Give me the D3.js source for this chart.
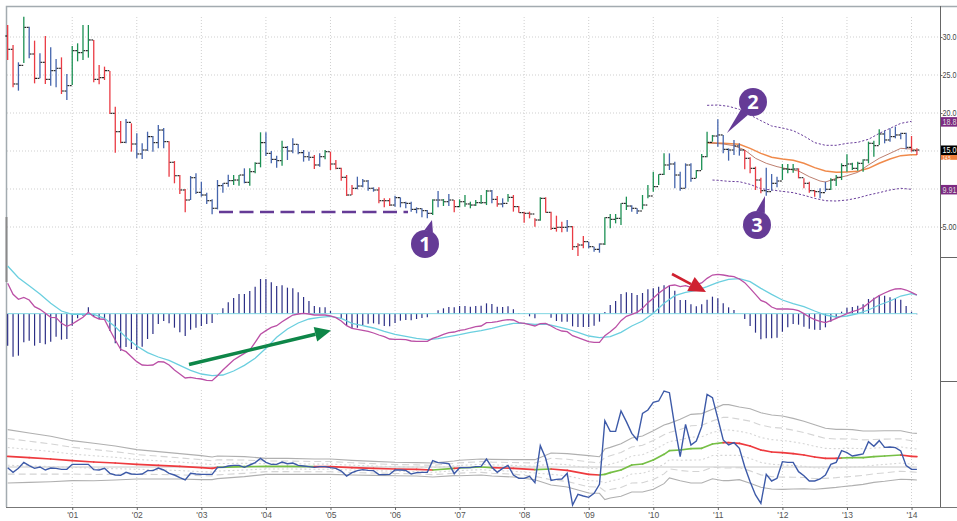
<!DOCTYPE html>
<html><head><meta charset="utf-8">
<style>html,body{margin:0;padding:0;background:#fff;overflow:hidden}svg{display:block}text{font-family:"Liberation Sans",Arial,sans-serif}</style>
<script src="https://cdn.jsdelivr.net/npm/d3@7/dist/d3.min.js"></script>
</head><body><div id="c"></div>
<script>
const high=[31.58,28.95,26.67,32.68,31.36,29.52,27.85,30.13,28.64,27.11,27.32,25.13,28.82,29.17,31.58,31.58,29.61,26.32,26.1,25.53,20.83,18.95,19.21,18.64,17.32,16.01,17.54,16.97,18.42,18.03,16.27,13.68,11.84,10,11.71,12.06,10.96,9.52,8.64,11.18,10.75,11.89,11.84,11.84,12.72,12.72,13.51,17.46,17.46,15,14.39,16.36,15.66,16.67,15.92,15.13,14.91,14.47,14.69,15.13,14.91,13.82,12.81,11.84,10.53,11.62,11.32,11.18,10.22,10.22,8.77,8.77,9.12,8.9,8.33,8.33,7.59,7.46,7.24,8.64,9.74,8.68,9.34,8.55,8.64,9.21,8.33,8.55,9.21,9.87,9.87,9.08,8.77,9.34,9.21,7.76,7.02,7.02,6.14,8.9,8.9,7.02,6.49,5.7,5.92,5.13,2.85,3.82,3.07,2.41,2.85,6.27,6.71,6.71,8.11,8.99,7.85,7.46,9.21,10.53,12.28,11.93,14.69,14.69,13.6,12.28,13.38,13.38,12.5,14.61,17.54,17.11,19.17,17.11,15.35,16.45,16.01,15.13,14.17,12.94,11.49,12.81,11.97,11.62,13.29,13.29,13.29,12.72,11.4,10.96,9.87,10.09,10.96,11.4,11.84,13.38,14.56,13.46,13.6,13.9,16.23,16.36,17.85,17.68,17.98,18.2,17.41,17.41,16.97,15.35];
const low=[26.97,23.38,22.94,26.58,27.19,23.9,24.56,23.82,23.6,23.38,22.5,21.71,23.68,26.8,26.97,27.28,24.04,23.77,24.34,19.87,14.78,16.01,16.01,14.91,14.04,13.95,15,14.91,15.35,15.35,11.62,10.75,9.34,6.93,8.55,9.34,8.99,8.03,6.67,7.32,9.52,10.31,10.53,10.44,10.75,10.44,12.06,12.85,14.34,13.38,12.81,13.07,13.82,14.69,14.56,13.6,13.73,12.63,12.94,13.9,12.5,12.59,11.1,9.08,9.21,9.96,10.22,9.78,9.65,8.11,7.59,7.76,7.68,7.59,7.46,7.02,6.8,6.27,6.14,6.58,7.59,7.76,7.76,6.93,7.59,7.68,7.46,7.76,8.03,7.89,8.11,7.68,7.59,8.33,7.02,6.89,5.57,6.14,5.04,5.83,6.89,4.61,4.39,4.3,4.39,1.97,1.18,2.19,2.19,1.75,1.62,2.63,4.82,5.48,5.26,7.24,7.02,6.71,7.32,8.77,9.65,10.53,11.84,12.5,10.09,9.78,10.09,10.96,11.4,12.5,14.17,16.23,15.57,14.69,13.73,14.47,14.39,12.59,12.06,9.87,9.43,9.12,9.78,10.22,11.18,12.06,12.15,11.4,10.09,9.52,8.99,8.77,9.65,9.87,10.39,11.18,12.28,12.5,12.41,12.28,13.38,14.25,15.79,16.01,16.23,16.67,16.54,15.22,14.91,14.47];
const close=[28.38,23.82,26.27,31.27,27.76,24.56,26.67,24.43,25.57,25.88,22.89,23.6,28.2,27.94,28.2,29.61,24.43,24.65,25.57,19.96,17.54,16.14,18.77,15.92,14.61,15.13,16.89,16.1,17.76,16.23,13.51,11.75,9.87,8.55,11.49,9.56,9.21,8.46,7.46,10.44,10.75,11.1,11.18,11.84,10.88,12.28,13.38,16.1,14.69,13.9,13.73,15.48,15,15.88,14.78,14.25,14.17,13.16,14.25,14.91,13.29,12.72,11.54,9.21,10.09,10.39,11.05,10.09,9.87,8.46,8.46,7.89,8.86,8.2,8.11,7.32,7.41,7.15,6.8,8.55,8.55,8.33,8.55,7.68,8.33,8.03,7.89,8.2,8.2,9.74,8.64,8.03,8.11,8.9,7.68,6.89,6.8,6.71,5.92,8.77,6.93,4.82,4.96,4.96,5.04,2.41,2.63,3.07,2.41,2.06,2.76,6.23,6.01,6.14,8.11,7.76,7.46,7.11,7.89,9.08,10.31,11.93,13.16,13.29,11.84,10.09,13.16,11.4,12.41,14.25,16.14,16.97,17.11,15.22,15.13,15.66,15.13,14.04,12.72,11.18,9.78,9.65,10.75,11.05,12.63,12.59,12.63,11.49,10.75,9.78,9.65,9.52,9.96,11.18,11.54,13.07,13.29,12.72,13.38,13.82,16.01,15.7,17.24,16.45,16.89,17.11,17.32,15.48,15.04,15.13];
const firstOpen=30.13;
const impulseColors=["rrbgbrbrbb","rbggggrrrr","rrbrbbbbbb","rrrrbbbbbb","bbggbgggbb","bgbbbbbrbg","rrrrrbbbbr","rrbbbbbbbg","bgbrgggggg","brbgrrrrrg","rrrrbrrrbb","bgggggbbgg","gggbbbbbgg","ggbbbbbrrr","rbbbgggrrr","rbbggggggg","gggbbbbbrr"].join("");
const macdHist=[-.96,-1.29,-1.26,-.86,-.81,-.96,-.88,-.92,-.84,-.69,-.78,-.76,-.36,-.14,-.06,.19,-.1,-.16,-.14,-.52,-.89,-1.11,-1,-1.06,-1.09,-.99,-.76,-.61,-.31,-.22,-.29,-.42,-.56,-.67,-.48,-.42,-.37,-.31,-.28,-.02,.16,.34,.47,.59,.59,.68,.81,1.04,1.04,.94,.83,.85,.78,.76,.64,.5,.38,.23,.19,.19,.08,0,-.16,-.36,-.44,-.42,-.34,-.3,-.29,-.32,-.37,-.38,-.28,-.21,-.19,-.2,-.16,-.13,-.11,0,.1,.16,.2,.19,.23,.23,.21,.23,.24,.31,.29,.21,.2,.22,.13,.02,.01,-.08,-.14,0,0,-.12,-.22,-.24,-.24,-.38,-.4,-.4,-.4,-.36,-.24,.05,.26,.38,.59,.64,.62,.56,.62,.73,.76,.81,.85,.83,.69,.41,.41,.28,.22,.28,.42,.51,.46,.31,.19,.11,0,-.16,-.37,-.57,-.77,-.74,-.74,-.72,-.54,-.41,-.31,-.33,-.39,-.45,-.48,-.49,-.41,-.24,-.14,.06,.18,.2,.24,.28,.44,.48,.56,.54,.49,.46,.42,.23,.06,-.02];
const macdLine=[.91,.58,.43,.49,.41,.21,.13,.01,-.11,-.12,-.29,-.38,-.31,-.21,-.11,.04,-.09,-.16,-.17,-.49,-.79,-1.07,-1.14,-1.29,-1.44,-1.54,-1.55,-1.54,-1.44,-1.45,-1.54,-1.69,-1.81,-1.93,-1.91,-1.94,-1.96,-2,-2.01,-1.86,-1.69,-1.54,-1.39,-1.29,-1.19,-1.09,-.86,-.62,-.51,-.41,-.36,-.24,-.14,-.04,-.01,.01,-.01,-.04,-.04,-.04,-.07,-.12,-.22,-.36,-.44,-.47,-.5,-.53,-.58,-.64,-.69,-.76,-.77,-.77,-.78,-.82,-.83,-.83,-.83,-.74,-.69,-.62,-.57,-.55,-.5,-.48,-.43,-.39,-.37,-.27,-.26,-.24,-.2,-.18,-.19,-.27,-.29,-.33,-.37,-.3,-.29,-.37,-.46,-.52,-.54,-.66,-.72,-.78,-.84,-.86,-.86,-.66,-.54,-.41,-.21,-.08,-.02,.04,.16,.33,.46,.61,.73,.84,.86,.81,.84,.79,.88,.92,1.06,1.16,1.18,1.16,1.13,1.11,1.04,.93,.76,.58,.4,.33,.2,.14,.14,.14,.13,.09,0,-.1,-.18,-.23,-.27,-.21,-.14,-.07,0,.06,.11,.19,.31,.44,.54,.62,.69,.74,.75,.71,.64,.56];
const signalBars=d3.range(0,170,2).concat([169]);
const signalLine=[1.43,1.08,.84,.59,.31,.08,-.02,-.02,-.02,-.14,-.39,-.71,-.97,-1.17,-1.3,-1.4,-1.55,-1.7,-1.81,-1.86,-1.84,-1.72,-1.55,-1.34,-1.04,-.71,-.46,-.28,-.16,-.11,-.08,-.14,-.29,-.36,-.43,-.53,-.62,-.68,-.74,-.78,-.75,-.69,-.63,-.56,-.51,-.44,-.36,-.29,-.29,-.32,-.31,-.38,-.46,-.56,-.67,-.72,-.69,-.56,-.37,-.22,.01,.31,.54,.64,.7,.81,.94,1.03,1.05,.96,.76,.58,.41,.3,.21,.08,-.04,-.1,-.07,0,.11,.26,.38,.53,.6,.56];
const oscLine=[-.02,-.16,-.04,.14,.04,-.04,0,-.09,-.03,-.04,-.07,-.07,.08,.08,.08,.08,-.08,-.09,-.04,-.19,-.24,-.25,-.16,-.21,-.22,-.21,-.11,-.11,-.03,-.09,-.19,-.24,-.32,-.39,-.19,-.21,-.22,-.22,-.22,-.01,-.01,.03,.05,.05,-.01,.06,.13,.26,.14,.08,.08,.15,.1,.12,.05,.03,.01,-.01,.01,.01,-.02,-.04,-.12,-.27,-.17,-.11,-.08,-.1,-.11,-.23,-.23,-.22,-.09,-.09,-.1,-.21,-.17,-.16,-.16,.19,.13,.12,.1,-.2,-.02,-.02,-.02,.01,.02,.24,-.01,-.16,-.04,.05,-.24,-.34,-.34,-.28,-.47,.64,.26,-.4,-.37,-.36,-.19,-1.14,-.82,-.87,-.91,-.79,-.52,1.39,1.07,1.07,1.68,1.36,1.01,.81,1.61,1.71,1.94,1.98,2.28,2.23,1.21,.31,1.28,.66,.78,1.21,2.18,2.08,1.46,.81,.66,.73,.56,.01,-.44,-.84,-1.09,-.22,-.42,-.34,.16,.14,.14,-.14,-.26,-.42,-.42,-.36,-.24,.08,.14,.49,.43,.33,.36,.39,.76,.62,.79,.59,.6,.58,.48,.04,-.07,-.07];
const emaBars=[0,4,8,12,16,20,24,28,32,36,38,39,44,48,52,57,60,64,68,72,76,79,83,84,88,90,94,98,101,104,108,110,111,112,114,116,118,120,122,123,125,127,129,131,133,134,136,138,140,142,144,146,148,150,152,154,155,157,159,161,163,166,168,169];
const emaVals=[.32,.28,.24,.19,.15,.12,.08,.05,.02,-.02,-.04,-.01,.01,.02,.02,.01,.01,-.02,-.04,-.06,-.07,-.09,-.04,-.03,0,-.02,-.04,-.08,-.06,-.1,-.22,-.24,-.22,-.17,-.09,.06,.09,.21,.38,.49,.51,.55,.56,.69,.73,.73,.71,.63,.51,.45,.43,.4,.36,.3,.26,.26,.27,.28,.28,.31,.33,.36,.32,.31];
const emaTrend=["rrrrrrrrrrr","gggg","rrrrrr","grggrrgrrr","ggggggggggggg","rrrrrrrrrrrr","ggggg","rrr"].join("");
const atrVals=[.267,.247,.227,.2,.187,.17,.147,.137,.127,.12,.113,.113,.1,.08,.08,.077,.077,.073,.07,.067,.067,.07,.073,.077,.08,.083,.087,.1,.16,.167,.187,.183,.253,.253,.263,.27,.28,.293,.293,.273,.307,.343,.347,.347,.38,.38,.363,.373,.373,.37,.367,.353,.337,.323,.3,.29,.287,.28,.267,.257,.253,.243,.233,.233];
const slowEmaBars=[130,133,136,138,140,142,144,146,148,150,152,154,156,158,160,162,164,166,168,169];
const slowEma=[16.1,16.01,15.88,15.35,14.69,14.17,13.95,13.77,13.38,12.81,12.37,12.19,12.24,12.32,12.72,13.38,13.95,14.39,14.52,14.52];
const fastEmaBars=[130,133,135,137,139,141,143,145,147,149,151,152,154,156,158,160,162,164,166,168,169];
const fastEma=[16.1,15.92,15.7,15.13,14.04,13.38,12.94,12.63,12.37,11.62,11.05,10.92,11.4,11.75,12.19,13.16,14.04,14.69,15.35,15.26,15.13];
const upperBars=[130,132,134,136,138,140,142,144,146,148,150,152,154,156,158,160,162,164,166,168];
const upperEnv=[21.01,21.05,20.88,20.48,19.74,18.99,18.29,18.03,17.68,16.97,16.1,15.75,15.75,16.01,16.14,16.54,17.32,17.98,18.64,18.9];
const lowerBars=[131,132,134,136,138,140,142,144,146,148,150,152,154,156,158,160,162,164,166,168];
const lowerEnv=[11.18,11.14,11.01,10.96,10.61,10.04,9.87,9.69,9.52,9.17,8.77,8.46,8.42,8.55,8.82,9.21,9.52,9.87,10.09,9.96];
const priceTicks=[30,25,20,15,10,5];
const priceTickLabels=["30.0","25.0","20.0","","","5.00"];
const yearBars=[12,24,36,48,60,72,84,96,108,120,132,144,156,168];
const yearLabels=["'01","'02","'03","'04","'05","'06","'07","'08","'09","'10","'11","'12","'13","'14"];
const tags=[{v:18.83,t:"18.8",f:"#7d2a82",c:"#ddd"},{v:14.2,t:"14.5",f:"#f07f3c",c:"#fff",h:5.5,fs:5.2,b:2.8},{v:15.1,t:"15.0",f:"#000",c:"#fff",b:2.6},{v:9.91,t:"9.91",f:"#7d2a82",c:"#ddd"}];

const W=957,H=521,plotR=940;
const svg=d3.select("#c").append("svg").attr("width",W).attr("height",H);
const x=d3.scaleLinear().domain([0,169]).range([7.67,916.9]);
const yP=d3.scaleLinear().domain([0,30]).range([265,37]);
const yM=d3.scaleLinear().domain([0,3]).range([313.67,213.67]);
const yO=d3.scaleLinear().domain([0,3]).range([467,367]);
const gridC="#cfcfcf";
const col={r:"#ea3b44",g:"#1b9053",b:"#4565ad"};

// grid
const grid=svg.append("g").attr("stroke",gridC).attr("stroke-dasharray","1,2");
grid.selectAll("line.h").data(priceTicks).join("line").attr("x1",7).attr("x2",plotR).attr("y1",d=>yP(d)).attr("y2",d=>yP(d));
[[17,256],[265,381],[390,506]].forEach(([a,b])=>{
  grid.append("g").selectAll("line").data(yearBars).join("line").attr("x1",d=>x(d)).attr("x2",d=>x(d)).attr("y1",a).attr("y2",b);
});

// frame
const frame=svg.append("g").attr("fill","none");
frame.append("path").attr("d",`M6.5,${H-14}V6.5H${W}`).attr("stroke","#a3abb0").attr("stroke-width",1.5);
frame.append("path").attr("d","M6.5,217V282").attr("stroke","#8a8a8a").attr("stroke-width",2);
frame.append("path").attr("d",`M${plotR+.5},6V507`).attr("stroke","#666");
frame.append("path").attr("d",`M${plotR},257.5H${W}M${plotR},381.5H${W}`).attr("stroke","#666");
frame.append("path").attr("d",`M6,507.5H${W}`).attr("stroke","#777");

// axes
const yAxis=d3.axisRight(yP).tickValues(priceTicks).tickSize(2.5).tickPadding(0).tickFormat((d,i)=>priceTickLabels[i]);
const ga=svg.append("g").attr("transform",`translate(${plotR},0)`).call(yAxis);
ga.select(".domain").remove();
ga.selectAll("line").attr("stroke","#666");
ga.selectAll("text").attr("x",0).attr("transform","translate(2.6,0) scale(.8,1)").attr("font-size",9).attr("dy","0.28em").attr("fill","#444").attr("font-family","Liberation Sans");
const xAxis=d3.axisBottom(x).tickValues(yearBars).tickSize(3).tickPadding(2).tickFormat((d,i)=>yearLabels[i]);
const gx=svg.append("g").attr("transform","translate(0,507)").call(xAxis);
gx.select(".domain").remove();
gx.selectAll("line").attr("stroke","#666");
gx.selectAll("text").attr("font-size",8.5).attr("fill","#555").attr("font-family","Liberation Sans");

// right-hand value tags
const tg=svg.append("g").selectAll("g").data(tags).join("g");
tg.append("rect").attr("x",plotR+1).attr("width",W-plotR).attr("y",d=>yP(d.v)-(d.h||9.5)/2).attr("height",d=>d.h||9.5).attr("fill",d=>d.f);
tg.append("text").attr("transform",d=>`translate(${plotR+2.6},${yP(d.v)+(d.b||3.1)}) scale(.8,1)`).attr("font-size",d=>d.fs||9).attr("fill",d=>d.c).text(d=>d.t);

// overlays on price
const ln=(bs,yy)=>d3.line().x((d,i)=>x(bs[i])).y(d=>yy(d));
const ov=svg.append("g").attr("fill","none");
ov.append("path").attr("d",ln(slowEmaBars,yP)(slowEma)).attr("stroke","#f08a4b").attr("stroke-width",1.5);
ov.append("path").attr("d",ln(fastEmaBars,yP)(fastEma)).attr("stroke","#b5705f").attr("stroke-width",.9);
ov.append("path").attr("d",ln(upperBars,yP)(upperEnv)).attr("stroke","#6a3f9c").attr("stroke-width",1).attr("stroke-dasharray","2.2,1.8");
ov.append("path").attr("d",ln(lowerBars,yP)(lowerEnv)).attr("stroke","#6a3f9c").attr("stroke-width",1).attr("stroke-dasharray","2.2,1.8");

// price bars
const bars=svg.append("g").selectAll("g").data(d3.range(close.length)).join("g");
bars.append("line").attr("x1",i=>x(i)).attr("x2",i=>x(i)).attr("y1",i=>yP(high[i])).attr("y2",i=>yP(low[i]))
  .attr("stroke",i=>col[impulseColors[i]]).attr("stroke-width",1.3);
const tk=svg.append("g").attr("stroke","#111").attr("stroke-width",1.1);
tk.selectAll("line.o").data(d3.range(close.length)).join("line").attr("class","o")
  .attr("x1",i=>x(i)-2.4).attr("x2",i=>x(i)-.6).attr("y1",i=>yP(i?close[i-1]:firstOpen)).attr("y2",i=>yP(i?close[i-1]:firstOpen));
tk.selectAll("line.c").data(d3.range(close.length)).join("line").attr("class","c")
  .attr("x1",i=>x(i)+.6).attr("x2",i=>x(i)+2.4).attr("y1",i=>yP(close[i])).attr("y2",i=>yP(close[i]));

// annotations on price
const purple="#653b96";
svg.append("line").attr("x1",219).attr("x2",408).attr("y1",yP(6.97)).attr("y2",yP(6.97)).attr("stroke",purple).attr("stroke-width",2.6).attr("stroke-dasharray","14,6.5");
[{cx:425,cy:244,t:"1",px:432,py:220},{cx:753,cy:102,t:"2",px:727,py:133},{cx:757,cy:225,t:"3",px:765,py:196}].forEach(d=>{
  const g=svg.append("g");
  const ang=Math.atan2(d.py-d.cy,d.px-d.cx),w=0.32;
  g.append("path").attr("fill",purple).attr("d",`M${d.px},${d.py}L${d.cx+14*Math.cos(ang-w)},${d.cy+14*Math.sin(ang-w)}L${d.cx+14*Math.cos(ang+w)},${d.cy+14*Math.sin(ang+w)}Z`);
  g.append("circle").attr("cx",d.cx).attr("cy",d.cy).attr("r",14).attr("fill",purple);
  g.append("text").attr("x",d.cx).attr("y",d.cy+7).attr("text-anchor","middle").attr("font-size",20).attr("font-weight","bold").attr("fill","#fff").style("font-family","Open Sans").text(d.t);
});

// MACD panel
const mp=svg.append("g");
mp.selectAll("line").data(d3.range(macdHist.length)).join("line")
  .attr("x1",i=>x(i)).attr("x2",i=>x(i)).attr("y1",yM(0)).attr("y2",i=>yM(macdHist[i]))
  .attr("stroke","#2c2f86").attr("stroke-width",1.2);
mp.append("line").attr("x1",x(0)).attr("x2",x(169)).attr("y1",yM(0)).attr("y2",yM(0)).attr("stroke","#7fd6e2");
const allB=d3.range(170);
mp.append("path").attr("d",ln(signalBars,yM)(signalLine)).attr("fill","none").attr("stroke","#6bcfdf").attr("stroke-width",1.3);
mp.append("path").attr("d",ln(allB,yM)(macdLine)).attr("fill","none").attr("stroke","#bb50a6").attr("stroke-width",1.3);

const arrow=(x1,y1,x2,y2,c,w,hl,hw)=>{
  const a=Math.atan2(y2-y1,x2-x1),bx=x2-hl*Math.cos(a),by=y2-hl*Math.sin(a),nx=-Math.sin(a),ny=Math.cos(a);
  svg.append("line").attr("x1",x1).attr("y1",y1).attr("x2",bx).attr("y2",by).attr("stroke",c).attr("stroke-width",w);
  svg.append("path").attr("fill",c).attr("d",`M${x2},${y2}L${bx+nx*hw},${by+ny*hw}L${bx-nx*hw},${by-ny*hw}Z`);
};
arrow(189,364.5,331,330.5,"#0e8648",3.4,16,7.5);
arrow(672,274,706,292,"#cf2030",2.6,17,8);

// oscillator panel
const op=svg.append("g").attr("fill","none");
op.append("line").attr("x1",x(0)).attr("x2",x(169)).attr("y1",yO(0)).attr("y2",yO(0)).attr("stroke","#c8c8c8");
const band=k=>ln(emaBars,yO)(emaVals.map((v,i)=>v+k*atrVals[i]));
[[3,"#b0b0b0",null],[-3,"#b0b0b0",null],[2,"#d4d4d4","7,4"],[-2,"#d4d4d4","7,4"],[1,"#d6d6d6","2,2.5"],[-1,"#d6d6d6","2,2.5"]].forEach(([k,c,da])=>{
  op.append("path").attr("d",band(k)).attr("stroke",c).attr("stroke-width",1.1).attr("stroke-dasharray",da);
});
const emaC={r:"#ee3a3e",g:"#76bf45"};
op.selectAll("line.e").data(d3.range(emaBars.length-1)).join("line").attr("class","e")
  .attr("x1",i=>x(emaBars[i])).attr("x2",i=>x(emaBars[i+1])).attr("y1",i=>yO(emaVals[i])).attr("y2",i=>yO(emaVals[i+1]))
  .attr("stroke",i=>emaC[emaTrend[i]]).attr("stroke-width",1.7).attr("stroke-linecap","round");
op.append("path").attr("d",ln(allB,yO)(oscLine)).attr("stroke","#3d5aa8").attr("stroke-width",1.4);
</script></body></html>
